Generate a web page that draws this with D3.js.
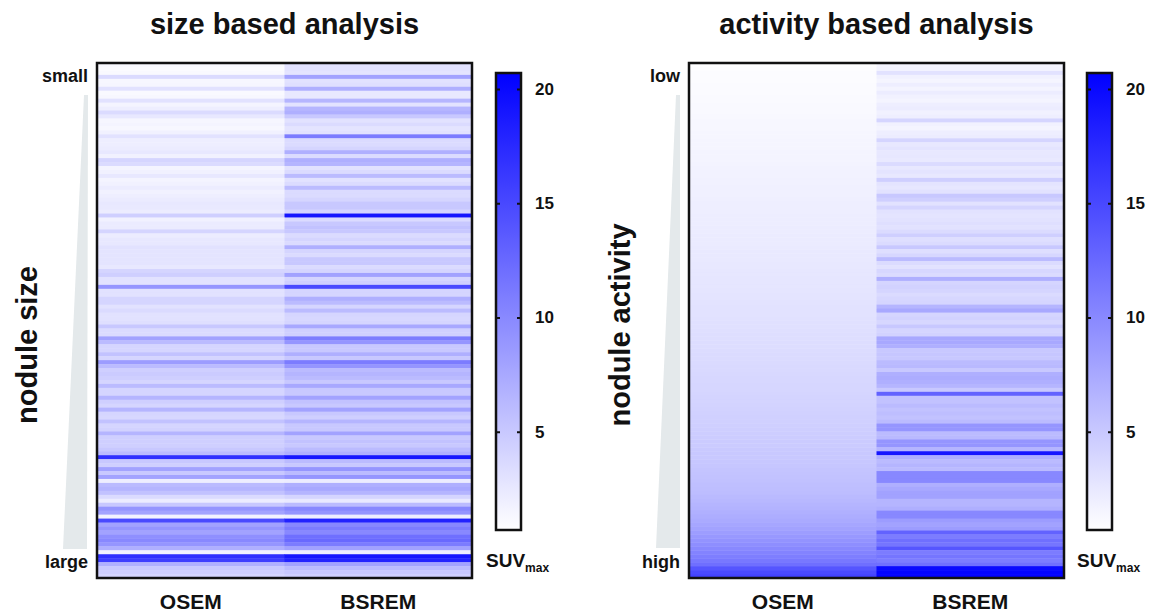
<!DOCTYPE html>
<html>
<head>
<meta charset="utf-8">
<script src="https://cdn.jsdelivr.net/npm/d3@7"></script>
<style>
  body { margin: 0; background: #fff; }
  text { font-family: "Liberation Sans", Arial, sans-serif; font-weight: bold; fill: #111; }
</style>
</head>
<body>
<svg id="chart" width="1157" height="612"></svg>
<script>
// columns of each heat map
var methods = ["OSEM", "BSREM"];

// SUVmax per nodule, ordered by nodule size (small -> large)
var sizeOSEM = [
  1.2, 1.0, 1.2, 3.5, 1.3, 1.4, 3.0, 1.2, 1.3, 3.0,
  1.6, 2.0, 3.5, 2.5, 1.4, 1.6, 1.3, 1.8, 3.0, 2.0,
  2.0, 2.2, 2.5, 1.8, 4.0, 3.5, 1.6, 1.8, 2.5, 1.6,
  1.8, 2.2, 1.8, 2.0, 2.3, 2.5, 2.4, 2.2, 4.5, 1.8,
  2.3, 2.3, 4.0, 2.2, 2.5, 2.5, 3.0, 2.8, 2.8, 2.8,
  2.8, 2.5, 4.0, 4.5, 3.0, 3.0, 9.0, 3.0, 3.0, 4.0,
  4.0, 3.0, 3.5, 3.0, 3.0, 3.2, 5.0, 3.5, 3.5, 8.0,
  6.0, 4.0, 4.0, 5.5, 4.0, 8.5, 6.0, 4.5, 4.8, 4.5,
  4.0, 6.0, 4.0, 4.0, 6.5, 4.5, 4.0, 6.5, 4.0, 3.8,
  5.5, 4.0, 4.2, 6.5, 4.5, 4.5, 4.5, 5.0, 6.0, 17,
  5.0, 4.5, 8.0, 5.0, 8.0, 2.0, 6.0, 6.5, 5.5, 3.5,
  2.2, 5.0, 9.0, 8.0, 1.8, 15, 8.0, 9.0, 8.0, 9.5,
  10, 9.0, 7.0, 1.8, 17, 16, 7.0, 5.0, 4.5, 4.0
];
var sizeBSREM = [
  3.0, 3.0, 2.8, 8.0, 3.0, 3.2, 7.0, 2.5, 2.5, 6.5,
  3.0, 6.5, 7.0, 5.0, 3.0, 3.5, 2.8, 3.0, 11, 3.5,
  3.5, 4.0, 7.0, 3.5, 7.0, 6.5, 3.0, 3.5, 6.0, 3.0,
  3.5, 6.0, 3.5, 3.5, 4.0, 5.0, 5.0, 4.0, 19, 3.5,
  5.0, 5.5, 5.0, 3.5, 4.0, 3.5, 7.0, 4.0, 3.5, 5.0,
  5.0, 3.5, 4.0, 8.0, 4.0, 4.5, 15, 4.0, 4.0, 7.0,
  6.0, 4.0, 6.0, 4.0, 3.8, 4.0, 7.5, 4.5, 4.5, 11,
  9.0, 5.0, 5.0, 7.0, 5.0, 11, 9.0, 6.0, 6.5, 6.0,
  5.0, 7.5, 5.0, 5.0, 8.0, 5.5, 5.0, 8.0, 5.0, 4.5,
  6.5, 5.0, 5.0, 8.0, 5.0, 5.5, 5.0, 6.0, 7.0, 19,
  6.0, 5.0, 9.0, 6.0, 9.0, 2.2, 7.0, 7.5, 6.5, 4.0,
  2.4, 6.0, 10, 9.0, 2.0, 18, 10, 11, 10, 12,
  12.5, 11, 8.0, 2.0, 19, 18, 8.0, 6.0, 5.0, 4.5
];

// SUVmax per nodule, ordered by nodule activity (low -> high)
var actOSEM = [
  0.8, 0.85, 0.9, 0.9, 0.95, 1.0, 1.0, 1.05, 1.1, 1.1,
  1.15, 1.2, 1.2, 1.25, 1.3, 1.3, 1.35, 1.4, 1.4, 1.45,
  1.5, 1.5, 1.55, 1.6, 1.6, 1.65, 1.7, 1.7, 1.75, 1.8,
  1.8, 1.85, 1.9, 1.9, 1.95, 2.0, 2.0, 2.05, 2.1, 2.1,
  2.15, 2.2, 2.2, 2.25, 2.3, 2.3, 2.35, 2.4, 2.4, 2.45,
  2.5, 2.5, 2.55, 2.6, 2.65, 2.7, 2.7, 2.75, 2.8, 2.85,
  2.9, 2.95, 3.0, 3.0, 3.05, 3.1, 3.15, 3.2, 3.25, 3.3,
  3.35, 3.4, 3.45, 3.5, 3.55, 3.6, 3.65, 3.7, 3.75, 3.8,
  3.85, 3.9, 3.95, 4.0, 4.05, 4.1, 4.15, 4.2, 4.3, 4.35,
  4.4, 4.5, 4.55, 4.6, 4.7, 4.75, 4.8, 4.9, 5.0, 5.05,
  5.1, 5.2, 5.3, 5.4, 5.5, 5.6, 5.7, 5.8, 5.9, 6.1,
  6.3, 6.5, 6.7, 6.9, 7.1, 7.4, 7.7, 8.0, 8.4, 8.8,
  9.2, 9.6, 10.0, 10.4, 10.8, 11.3, 12.0, 14.0, 15.0, 15.5
];
var actBSREM = [
  1.5, 1.6, 3.0, 1.8, 1.5, 2.0, 1.6, 2.2, 1.8, 1.6,
  2.0, 2.2, 1.8, 2.0, 4.0, 1.8, 1.6, 2.0, 2.2, 4.0,
  2.5, 2.8, 2.5, 2.6, 2.4, 3.5, 2.5, 2.8, 2.5, 4.5,
  2.8, 2.6, 3.0, 5.0, 4.5, 3.0, 4.0, 3.0, 2.8, 3.0,
  3.2, 3.0, 3.5, 4.5, 3.2, 3.5, 5.0, 3.2, 3.8, 6.0,
  3.5, 3.0, 3.8, 3.5, 7.0, 4.0, 4.2, 4.0, 3.5, 3.8,
  4.0, 6.5, 7.5, 4.0, 4.2, 3.8, 5.0, 4.0, 4.2, 7.5,
  7.5, 7.0, 5.0, 5.2, 5.0, 6.0, 6.2, 5.0, 7.0, 7.2,
  7.0, 6.5, 5.0, 13, 5.5, 5.5, 6.0, 5.5, 5.8, 5.5,
  6.0, 9.0, 9.0, 6.0, 6.2, 9.0, 9.0, 6.5, 19, 7.0,
  6.0, 6.5, 6.0, 10, 10, 10, 7.0, 7.5, 8.0, 8.0,
  6.5, 6.5, 7.0, 10, 10, 8.5, 8.0, 8.5, 13, 11,
  12, 11.5, 14, 11, 11.5, 11, 12, 20, 20.5, 20.5
];

// colour bar
var colorTicks = [5, 10, 15, 20];
var suvMin = 0.7, suvMax = 20.7;

var svg = d3.select("#chart");
var defs = svg.append("defs");

var color = d3.scaleLinear()
    .domain([suvMin, suvMax])
    .range(["#ffffff", "#0000ff"])
    .clamp(true);

// heat map box
var mapTop = 63, mapBottom = 578, mapWidth = 375;

var panels = [
  { title: "size based analysis", ylab: "nodule size", topLab: "small", botLab: "large",
    osem: sizeOSEM, bsrem: sizeBSREM, x0: 97, barX: 496, ylabX: 37, ylabY: 345,
    wedge: [[84, 95], [88, 95], [87, 549], [63, 549]] },
  { title: "activity based analysis", ylab: "nodule activity", topLab: "low", botLab: "high",
    osem: actOSEM, bsrem: actBSREM, x0: 689, barX: 1087, ylabX: 630, ylabY: 325,
    wedge: [[676, 95], [680, 95], [680, 548], [656, 548]] }
];

// gradient for the colour bars
var grad = defs.append("linearGradient")
    .attr("id", "suvGrad")
    .attr("x1", 0).attr("y1", 1).attr("x2", 0).attr("y2", 0);
d3.range(0, 1.0001, 0.1).forEach(function(t) {
  grad.append("stop")
      .attr("offset", t)
      .attr("stop-color", color(suvMin + t * (suvMax - suvMin)));
});

panels.forEach(function(p) {
  var g = svg.append("g");
  var n = p.osem.length;

  var x = d3.scaleBand().domain(methods).range([p.x0, p.x0 + mapWidth]);
  var y = d3.scaleBand().domain(d3.range(n)).range([mapTop, mapBottom]);

  var cells = [];
  d3.range(n).forEach(function(i) {
    cells.push({ row: i, method: "OSEM", v: p.osem[i] });
    cells.push({ row: i, method: "BSREM", v: p.bsrem[i] });
  });

  g.append("g").selectAll("rect")
    .data(cells)
    .enter().append("rect")
      .attr("x", function(d) { return x(d.method); })
      .attr("y", function(d) { return y(d.row); })
      .attr("width", x.bandwidth() + 0.5)
      .attr("height", y.bandwidth() + 0.4)
      .attr("fill", function(d) { return color(d.v); });

  // frame
  g.append("rect")
      .attr("x", p.x0).attr("y", mapTop)
      .attr("width", mapWidth).attr("height", mapBottom - mapTop)
      .attr("fill", "none").attr("stroke", "#111").attr("stroke-width", 2.5);

  // column labels
  g.selectAll(".colLab")
    .data(methods)
    .enter().append("text")
      .attr("class", "colLab")
      .attr("x", function(d) { return x(d) + x.bandwidth() / 2; })
      .attr("y", 609)
      .attr("text-anchor", "middle")
      .style("font-size", "21px")
      .text(function(d) { return d; });

  // title
  g.append("text")
      .attr("x", p.x0 + mapWidth / 2)
      .attr("y", 34)
      .attr("text-anchor", "middle")
      .style("font-size", "29px")
      .text(p.title);

  // wedge
  g.append("polygon")
      .attr("points", p.wedge.map(function(pt) { return pt.join(","); }).join(" "))
      .attr("fill", "#e4e9eb");

  g.append("text")
      .attr("x", p.x0 - 9).attr("y", 82)
      .attr("text-anchor", "end")
      .style("font-size", "18px")
      .text(p.topLab);
  g.append("text")
      .attr("x", p.x0 - 9).attr("y", 568)
      .attr("text-anchor", "end")
      .style("font-size", "18px")
      .text(p.botLab);

  // y label
  g.append("text")
      .attr("transform", "translate(" + p.ylabX + "," + p.ylabY + ") rotate(-90)")
      .attr("text-anchor", "middle")
      .style("font-size", "29px")
      .text(p.ylab);

  // colour bar
  var barW = 25, barTop = 73, barBottom = 530;
  var cy = d3.scaleLinear().domain([suvMin, suvMax]).range([barBottom, barTop]);

  g.append("rect")
      .attr("x", p.barX).attr("y", barTop)
      .attr("width", barW).attr("height", barBottom - barTop)
      .attr("fill", "url(#suvGrad)")
      .attr("stroke", "#111").attr("stroke-width", 2.5);

  var axR = g.append("g")
      .attr("transform", "translate(" + (p.barX + barW + 1) + ",0)")
      .call(d3.axisRight(cy).tickValues(colorTicks).tickSize(-5).tickPadding(13));
  axR.select(".domain").remove();
  axR.selectAll("line").attr("stroke", "#111").attr("stroke-width", 2);
  axR.selectAll("text")
      .style("font-size", "17px")
      .style("font-family", "'Liberation Sans', Arial, sans-serif")
      .style("font-weight", "bold")
      .attr("fill", "#111");

  var axL = g.append("g")
      .attr("transform", "translate(" + (p.barX - 1) + ",0)")
      .call(d3.axisLeft(cy).tickValues(colorTicks).tickSize(-5).tickFormat(""));
  axL.select(".domain").remove();
  axL.selectAll("line").attr("stroke", "#111").attr("stroke-width", 2);

  var suv = g.append("text")
      .attr("x", p.barX - 10).attr("y", 567)
      .style("font-size", "19px");
  suv.append("tspan").text("SUV");
  suv.append("tspan").attr("dy", 5).style("font-size", "12px").text("max");
});
</script>
</body>
</html>
